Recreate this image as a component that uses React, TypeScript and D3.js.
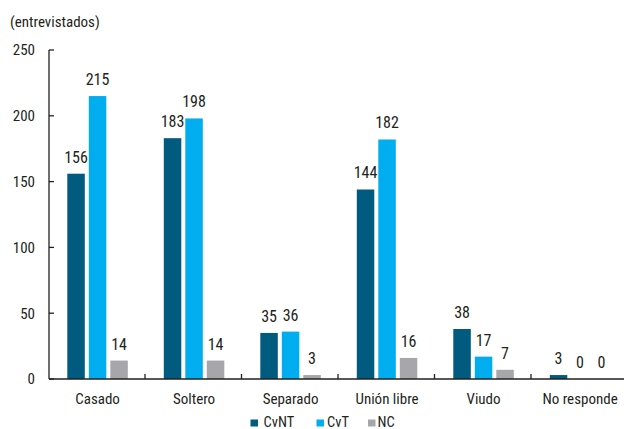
import React from "react";
import * as d3 from "d3";

const categories = ["Casado", "Soltero", "Separado", "Unión libre", "Viudo", "No responde"];
const seriesNames = ["CvNT", "CvT", "NC"];
const cvnt = [156, 183, 35, 144, 38, 3];
const cvt = [215, 198, 36, 182, 17, 0];
const nc = [14, 14, 3, 16, 7, 0];
const yTicks = [0, 50, 100, 150, 200, 250];
const colors = ["#005b7f", "#00aeef", "#a7a7a9"];

const W = 624;
const H = 429;
const FONT = "'Liberation Sans Narrow', 'Arial Narrow', 'Roboto Condensed', Roboto, sans-serif";
const TEXT = "#231f20";

export default function App() {
  const values = [cvnt, cvt, nc];
  const y = d3.scaleLinear().domain([0, 250]).range([379, 50]);
  const x = d3.scaleBand<string>().domain(categories).range([48.5, 48.5 + 6 * 96.5]).padding(0);
  const inner = d3.scaleBand<string>().domain(seriesNames).range([-30.25, 30.25]).paddingInner(0.186).paddingOuter(0);
  const x0 = 49;
  const yBase = y(0);

  const legendItems = [
    { name: "CvNT", sx: 250.5, tx: 263.5 },
    { name: "CvT", sx: 316.5, tx: 327 },
    { name: "NC", sx: 368, tx: 377.5 },
  ];

  return (
    <svg width={W} height={H} style={{ position: "absolute", left: 0, top: 0, background: "#fff" }} fontFamily={FONT} fontWeight={400}>
      <text x={10} y={27} fontSize={15} fill={TEXT}>(entrevistados)</text>
      {/* y axis */}
      <line x1={x0} x2={x0} y1={y(250)} y2={yBase} stroke="#231f20" strokeWidth={1.3} />
      {yTicks.map((t) => (
        <g key={t}>
          <line x1={x0} x2={x0 + 5} y1={y(t)} y2={y(t)} stroke="#231f20" strokeWidth={1.3} />
          <text x={35} y={y(t)} dy="0.36em" textAnchor="end" fontSize={15} fill={TEXT}>{t}</text>
        </g>
      ))}
      {/* bars */}
      {categories.map((c, ci) => {
        const cx = (x(c) as number) + x.bandwidth() / 2 + 0.8;
        return (
          <g key={c}>
            {seriesNames.map((s, si) => {
              const v = values[si][ci];
              const bx = cx + (inner(s) as number);
              const bw = inner.bandwidth();
              return (
                <g key={s}>
                  <rect x={bx} y={y(v)} width={bw} height={yBase - y(v)} fill={colors[si]} />
                  <text x={bx + bw / 2} y={y(v) - 11} textAnchor="middle" fontSize={16} fill={TEXT}>{v}</text>
                </g>
              );
            })}
            <text x={cx} y={404} textAnchor="middle" fontSize={15} fill={TEXT}>{c}</text>
          </g>
        );
      })}
      {/* x axis */}
      <line x1={x0} x2={W} y1={yBase} y2={yBase} stroke="#231f20" strokeWidth={1.3} />
      {categories.slice(1).map((c) => (
        <line key={c} x1={x(c) as number} x2={x(c) as number} y1={yBase} y2={yBase - 5} stroke="#231f20" strokeWidth={1.3} />
      ))}
      {/* legend */}
      {legendItems.map((l, i) => (
        <g key={l.name}>
          <rect x={l.sx} y={419.5} width={7.5} height={7} fill={colors[i]} />
          <text x={l.tx} y={426.5} fontSize={14.5} fill={TEXT}>{l.name}</text>
        </g>
      ))}
    </svg>
  );
}
